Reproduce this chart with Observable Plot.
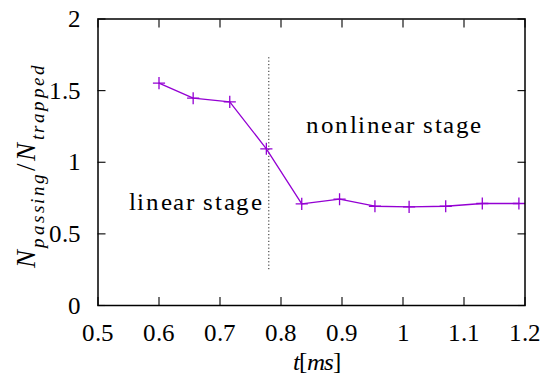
<!DOCTYPE html>
<html>
<head>
<meta charset="utf-8">
<script src="https://cdn.jsdelivr.net/npm/d3@7"></script>
<script src="https://cdn.jsdelivr.net/npm/@observablehq/plot@0.6"></script>
<style>
  @font-face { font-family: "RefSerif"; src: local("Liberation Serif"), local("LiberationSerif"); font-style: normal; }
  @font-face { font-family: "RefSerif"; src: local("Liberation Serif Italic"), local("LiberationSerif-Italic"); font-style: italic; }
  body { margin: 0; background: #fff; }
</style>
</head>
<body>
<div id="chart"></div>
<script>
// ---- data ----
const tMs   = [0.600, 0.656, 0.716, 0.776, 0.834, 0.896, 0.954, 1.010, 1.070, 1.130, 1.190];
const ratio = [1.552, 1.447, 1.422, 1.094, 0.710, 0.742, 0.693, 0.689, 0.693, 0.712, 0.712];

const xTicks      = [0.5, 0.6, 0.7, 0.8, 0.9, 1.0, 1.1, 1.2];
const xTickLabels = ["0.5", "0.6", "0.7", "0.8", "0.9", "1", "1.1", "1.2"];
const yTicks      = [0, 0.5, 1, 1.5, 2];
const yTickLabels = ["0", "0.5", "1", "1.5", "2"];

const stageBoundary = [0.78];          // t of dotted separator
const boundarySpan  = [0.25, 1.73];    // y extent of dotted separator
const stageLabels   = ["linear stage", "nonlinear stage"];
const stageLabelT   = [0.5505, 0.8413];
const stageLabelY   = [0.668, 1.203];

const lineColor = "#9400d3";
const serif = '"RefSerif", "Liberation Serif", serif';

const plot = Plot.plot({
  width: 545,
  height: 381,
  marginLeft: 97.5,
  marginRight: 20.5,
  marginTop: 18.5,
  marginBottom: 76,
  x: { domain: [0.5, 1.2], label: null },
  y: { domain: [0, 2], label: null },
  style: { fontSize: "25px", background: "white", color: "black" },
  marks: [
    Plot.axisX(xTicks, { anchor: "bottom", tickSize: -8, tickPadding: 26, strokeWidth: 1.1,
      tickFormat: d => xTickLabels[xTicks.indexOf(d)], fontSize: 25, label: null }),
    Plot.axisX(xTicks, { anchor: "top", tickSize: -8, strokeWidth: 1.1, fill: "none", tickFormat: () => "", label: null }),
    Plot.axisY(yTicks, { anchor: "left", tickSize: -8, tickPadding: 25, strokeWidth: 1.1,
      tickFormat: d => yTickLabels[yTicks.indexOf(d)], fontSize: 25, label: null }),
    Plot.axisY(yTicks, { anchor: "right", tickSize: -8, strokeWidth: 1.1, fill: "none", tickFormat: () => "", label: null }),
    Plot.ruleX(stageBoundary, { y1: boundarySpan[0], y2: boundarySpan[1], stroke: "#222", strokeWidth: 1, strokeDasharray: "1.2,2.2" }),
    Plot.line(ratio, { x: tMs, y: ratio, stroke: lineColor, strokeWidth: 1.3 }),
    Plot.dot(ratio, { x: tMs, y: ratio, symbol: "plus", r: 4, stroke: lineColor, strokeWidth: 1.3 }),
    Plot.text(stageLabels, { x: stageLabelT, y: stageLabelY, text: d => d, textAnchor: "start",
      lineAnchor: "bottom", fontSize: 25, fill: "black" }),
    Plot.frame({ stroke: "black", strokeWidth: 1.5 })
  ]
});

document.getElementById("chart").appendChild(plot);

const svg = d3.select(plot);
// stretch annotation text to the reference widths
const stageWidths = [133, 175];
svg.selectAll('g[aria-label="text"] text').each(function (d, i) {
  d3.select(this).attr("textLength", stageWidths[i]).attr("lengthAdjust", "spacing");
});

// x-axis label t[ms]
const xl = svg.append("text")
  .attr("x", 317).attr("y", 370)
  .attr("text-anchor", "middle")
  .attr("font-size", 25)
  .attr("fill", "black")
  .attr("textLength", 48).attr("lengthAdjust", "spacing");
xl.append("tspan").attr("font-style", "italic").text("t");
xl.append("tspan").text("[");
xl.append("tspan").attr("font-style", "italic").text("ms");
xl.append("tspan").text("]");

// y-axis label N_passing / N_trapped
const yl = svg.append("text")
  .attr("transform", "translate(35,166.5) rotate(-90)")
  .attr("text-anchor", "middle")
  .attr("fill", "black")
  .attr("textLength", 203).attr("lengthAdjust", "spacing");
yl.append("tspan").attr("font-style", "italic").attr("font-size", 27).text("N");
yl.append("tspan").attr("font-style", "italic").attr("font-size", 19).attr("dy", 9).text("passing");
yl.append("tspan").attr("font-size", 27).attr("dy", -9).text("/");
yl.append("tspan").attr("font-style", "italic").attr("font-size", 27).text("N");
yl.append("tspan").attr("font-style", "italic").attr("font-size", 19).attr("dy", 9).text("trapped");

function applySerif() {
  svg.attr("font-family", serif).style("font-family", serif);
  svg.selectAll("g, text, tspan").attr("font-family", serif).style("font-family", serif);
}
applySerif();
setTimeout(applySerif, 0);
window.addEventListener("load", applySerif);
</script>
</body>
</html>
